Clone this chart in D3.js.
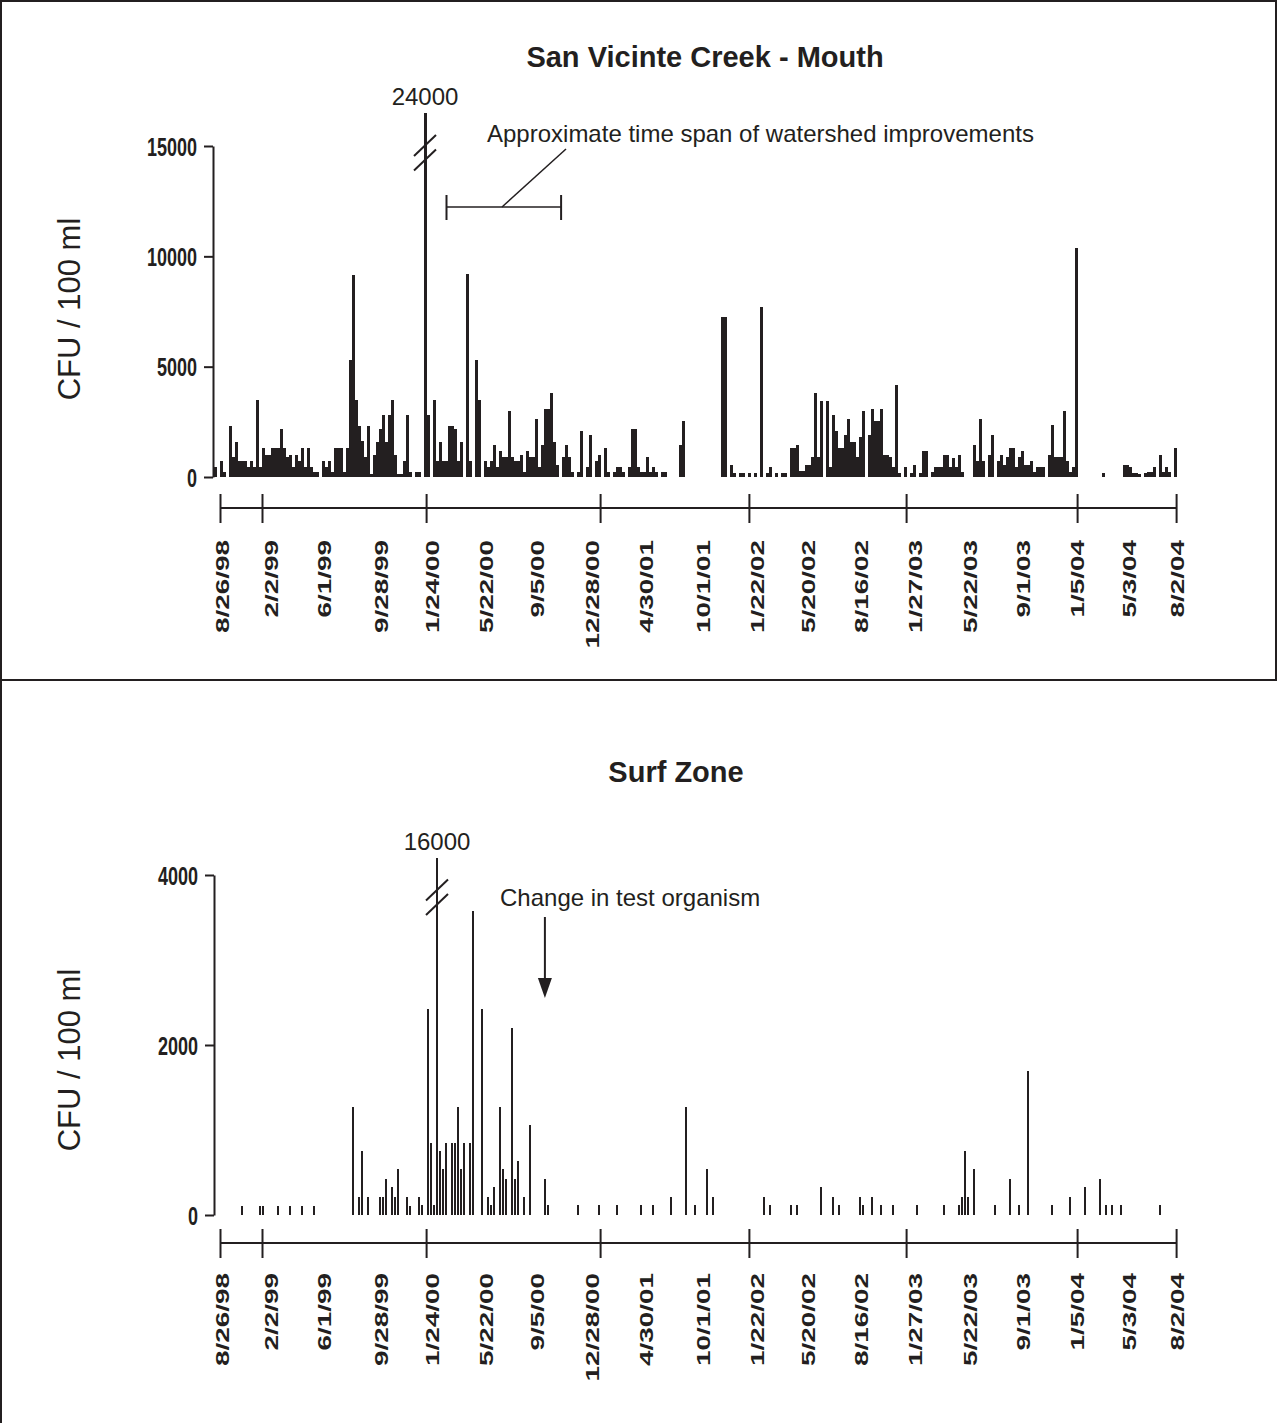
<!DOCTYPE html>
<html lang="en">
<head>
<meta charset="utf-8">
<title>San Vicinte Creek - bacteria counts</title>
<script src="https://d3js.org/d3.v7.min.js"></script>
<style>
    body { margin: 0; background: #fff; }
    text { font-family: "Liberation Sans", Arial, sans-serif; fill: #231f20; }
</style>
</head>
<body>
<div id="mainDiv"></div>
<script type="text/javascript">
const width = 1277
const height = 1423

// x axis runs over sample slots (one slot per sampling interval)
const dateLabels = ['8/26/98', '2/2/99', '6/1/99', '9/28/99', '1/24/00', '5/22/00', '9/5/00', '12/28/00',
    '4/30/01', '10/1/01', '1/22/02', '5/20/02', '8/16/02', '1/27/03', '5/22/03', '9/1/03', '1/5/04', '5/3/04', '8/2/04']
const labelSlots = [2.7, 19.3, 36.7, 55.7, 73, 91, 108, 126.3, 144.3, 163.3, 181.3, 198.3, 216, 234, 252.3, 269.7, 287.7, 305.3, 321.3]
const yearTickSlots = [2, 16, 70.7, 128.7, 178.3, 230.7, 287.7, 320.7]

// Mouth samples, CFU / 100 ml, one value per slot (0 = no sample)
const mouthCfu = [
    450, 0, 725, 225, 0, 2300, 900, 1600, 725, 725,
    725, 450, 725, 450, 3500, 450, 1330, 980, 980, 1330,
    1330, 1330, 2160, 1330, 900, 980, 450, 980, 725, 1330,
    450, 1330, 450, 225, 225, 0, 725, 450, 725, 225,
    1330, 1330, 1330, 225, 1330, 5300, 9150, 3500, 2300, 1650,
    900, 2300, 150, 980, 1600, 2160, 2800, 1600, 2800, 3500,
    980, 150, 150, 725, 2800, 225, 0, 225, 225, 0,
    24000, 2800, 0, 3500, 725, 1600, 725, 725, 2300, 2300,
    2160, 725, 1600, 0, 9200, 725, 0, 5300, 3500, 0,
    725, 450, 725, 1430, 450, 1180, 900, 900, 2990, 900,
    725, 725, 980, 225, 1180, 900, 900, 2610, 450, 1430,
    3070, 3070, 3800, 1600, 530, 0, 900, 1430, 900, 225,
    0, 225, 2070, 0, 450, 1890, 0, 725, 980, 0,
    1330, 225, 0, 225, 450, 450, 225, 0, 450, 2160,
    2160, 450, 225, 225, 900, 225, 450, 225, 0, 225,
    225, 0, 0, 0, 0, 1430, 2520, 0, 0, 0,
    0, 0, 0, 0, 0, 0, 0, 0, 0, 7250,
    7250, 0, 530, 180, 0, 180, 180, 0, 180, 0,
    180, 0, 7700, 0, 180, 450, 0, 180, 0, 180,
    180, 0, 1330, 1330, 1430, 270, 270, 530, 530, 900,
    3800, 900, 3440, 0, 3440, 450, 2800, 2080, 1330, 1330,
    1890, 2610, 1600, 1600, 900, 1800, 2970, 0, 1890, 3070,
    2520, 2520, 3070, 980, 980, 900, 450, 4150, 180, 0,
    450, 0, 180, 530, 0, 180, 1180, 1180, 0, 225,
    450, 450, 450, 980, 980, 450, 860, 450, 980, 225,
    0, 0, 0, 1430, 725, 2610, 725, 0, 980, 1890,
    0, 725, 980, 530, 900, 1330, 1330, 450, 900, 1180,
    530, 530, 725, 225, 450, 450, 450, 0, 980, 2340,
    900, 900, 900, 2970, 725, 225, 450, 10400, 0, 0,
    0, 0, 0, 0, 0, 0, 180, 0, 0, 0,
    0, 0, 0, 530, 530, 450, 180, 180, 150, 0,
    180, 225, 225, 450, 0, 980, 225, 450, 225, 0,
    1330
]

// Surf zone samples: slot and CFU / 100 ml
const surfSlots = [9, 15, 16, 21, 25, 29, 33,
    46, 48, 49, 51, 55, 56, 57, 59, 60, 61, 64, 65, 68, 69, 71, 72, 73, 74, 75, 76, 77, 79, 80,
    81, 82, 83, 85, 86, 89, 91, 92, 93, 95, 96, 97, 99, 100, 101, 103, 105,
    110, 111, 121, 128, 134, 142, 146, 152, 157, 160, 164, 166, 183, 185, 192, 194, 202, 206, 208,
    215, 216, 219, 222, 226, 234, 243, 248, 249, 250, 251, 253, 260, 265, 268, 271, 279, 285, 290,
    295, 297, 299, 302, 315]
const surfCfu = [110, 110, 110, 110, 110, 110, 110,
    1275, 215, 750, 215, 215, 215, 420, 330, 215, 540, 215, 110, 215, 120, 2420, 850, 120, 16000, 750, 540, 850, 850, 850,
    1275, 540, 850, 850, 3580, 2420, 215, 120, 330, 1275, 540, 420, 2200, 420, 635, 215, 1060,
    420, 120, 120, 120, 120, 120, 120, 215, 1275, 120, 540, 215, 215, 120, 120, 120, 330, 215, 120,
    215, 120, 215, 120, 120, 120, 120, 120, 215, 750, 215, 540, 120, 420, 120, 1700, 120, 215, 330,
    420, 120, 120, 120, 120]

const mouthTicks = [0, 5000, 10000, 15000]
const surfTicks = [0, 2000, 4000]

const ink = '#231f20'

const svg = d3.select('#mainDiv').append('svg')
    .attr('width', width)
    .attr('height', height)

// page frame
const frame = svg.append('g').attr('stroke', ink).attr('stroke-width', 2)
frame.append('line').attr('x1', 0).attr('x2', width).attr('y1', 1).attr('y2', 1)
frame.append('line').attr('x1', 1).attr('x2', 1).attr('y1', 0).attr('y2', height)
frame.append('line').attr('x1', width - 1).attr('x2', width - 1).attr('y1', 0).attr('y2', 681)
frame.append('line').attr('x1', 0).attr('x2', width).attr('y1', 680).attr('y2', 680)

const x = d3.scaleLinear().domain([0, 321]).range([214, 1177])

function drawPanel(p) {
    const g = svg.append('g')
    const y = d3.scaleLinear().domain([0, p.yMax]).range([p.y0, p.yTop])

    g.append('text')
        .attr('x', p.titleX).attr('y', p.titleY)
        .attr('text-anchor', 'middle')
        .attr('font-size', 29).attr('font-weight', 'bold')
        .text(p.title)

    g.append('text')
        .attr('transform', `translate(80,${p.yLabelY}) rotate(-90)`)
        .attr('text-anchor', 'middle')
        .attr('font-size', 31)
        .text('CFU / 100 ml')

    // y axis
    const yAxis = g.append('g')
        .attr('transform', `translate(${p.axisX},0)`)
        .call(d3.axisLeft(y).tickValues(p.ticks).tickSize(9).tickSizeOuter(0).tickFormat(d3.format('d')))
    yAxis.selectAll('path, line').attr('stroke', ink).attr('stroke-width', 2)
    yAxis.selectAll('text')
        .attr('x', 0).attr('dy', '0.36em')
        .attr('transform', 'translate(-16,0) scale(0.72,1)')
        .attr('font-size', 25).attr('font-weight', 'bold')
        .attr('font-family', '"Liberation Sans", Arial, sans-serif')
        .attr('fill', ink)

    // bars
    g.append('g').selectAll('rect')
        .data(p.bars)
        .join('rect')
        .attr('x', d => x(d.slot))
        .attr('width', p.barW)
        .attr('y', d => y(Math.min(d.value, p.cap)))
        .attr('height', d => y(0) - y(Math.min(d.value, p.cap)))
        .attr('fill', ink)
        .attr('shape-rendering', 'crispEdges')

    // axis break on the off-scale bar
    const big = p.bars.find(d => d.value > p.cap)
    const bx = x(big.slot) + 1
    g.append('g').selectAll('line')
        .data(p.breakYs)
        .join('line')
        .attr('x1', bx - 11).attr('x2', bx + 11)
        .attr('y1', d => d + 10.5).attr('y2', d => d - 10.5)
        .attr('stroke', ink).attr('stroke-width', 2)
    g.append('text')
        .attr('x', bx).attr('y', y(p.cap) - 8)
        .attr('text-anchor', 'middle')
        .attr('font-size', 24)
        .text(big.value)

    // x axis with year ticks
    g.append('line')
        .attr('x1', x(yearTickSlots[0])).attr('x2', x(yearTickSlots[yearTickSlots.length - 1]))
        .attr('y1', p.xAxisY).attr('y2', p.xAxisY)
        .attr('stroke', ink).attr('stroke-width', 2)
    const xAxis = g.append('g')
        .attr('transform', `translate(0,${p.xAxisY - 14})`)
        .call(d3.axisBottom(x).tickValues(yearTickSlots).tickSize(29).tickFormat(''))
    xAxis.select('.domain').remove()
    xAxis.selectAll('line').attr('stroke', ink).attr('stroke-width', 2)

    g.append('g').selectAll('text')
        .data(dateLabels)
        .join('text')
        .attr('transform', (d, i) => `translate(${x(labelSlots[i])},${p.labelTop}) rotate(-90) scale(1.55,1)`)
        .attr('text-anchor', 'end')
        .attr('dy', '0.36em')
        .attr('font-size', 18).attr('font-weight', 'bold')
        .text(d => d)

    return { g, y }
}

const mouthPanel = drawPanel({
    title: 'San Vicinte Creek - Mouth', titleX: 705, titleY: 67,
    yLabelY: 309, axisX: 213, y0: 477, yTop: 146, yMax: 15000, ticks: mouthTicks,
    cap: 16500, breakYs: [145.5, 160],
    bars: mouthCfu.map((v, k) => ({ slot: k, value: v })).filter(d => d.value > 0),
    barW: 3, xAxisY: 508, labelTop: 540
})

const surfPanel = drawPanel({
    title: 'Surf Zone', titleX: 676, titleY: 782,
    yLabelY: 1060, axisX: 214, y0: 1215, yTop: 875, yMax: 4000, ticks: surfTicks,
    cap: 4200, breakYs: [890, 904.5],
    bars: surfSlots.map((s, i) => ({ slot: s, value: surfCfu[i] })),
    barW: 2, xAxisY: 1243, labelTop: 1273
})

// annotation: watershed improvements span
const spanSlots = [77.5, 115.7]
const ann = mouthPanel.g.append('g').attr('stroke', ink).attr('stroke-width', 1.5)
ann.append('line').attr('x1', x(spanSlots[0])).attr('x2', x(spanSlots[1])).attr('y1', 207).attr('y2', 207)
ann.selectAll('line.end').data(spanSlots).join('line').attr('class', 'end')
    .attr('x1', d => x(d)).attr('x2', d => x(d)).attr('y1', 195).attr('y2', 220).attr('stroke-width', 2)
ann.append('line').attr('x1', 502).attr('y1', 207).attr('x2', 566).attr('y2', 149)
mouthPanel.g.append('text')
    .attr('x', 487).attr('y', 142)
    .attr('font-size', 24)
    .text('Approximate time span of watershed improvements')

// annotation: change in test organism
const changeSlot = 110.3
surfPanel.g.append('text')
    .attr('x', 500).attr('y', 906)
    .attr('font-size', 24)
    .text('Change in test organism')
surfPanel.g.append('line')
    .attr('x1', x(changeSlot)).attr('x2', x(changeSlot))
    .attr('y1', 917).attr('y2', 982)
    .attr('stroke', ink).attr('stroke-width', 2)
surfPanel.g.append('path')
    .attr('d', d3.line()([[x(changeSlot) - 7, 978], [x(changeSlot) + 7, 978], [x(changeSlot), 998]]))
    .attr('fill', ink)
</script>
</body>
</html>
